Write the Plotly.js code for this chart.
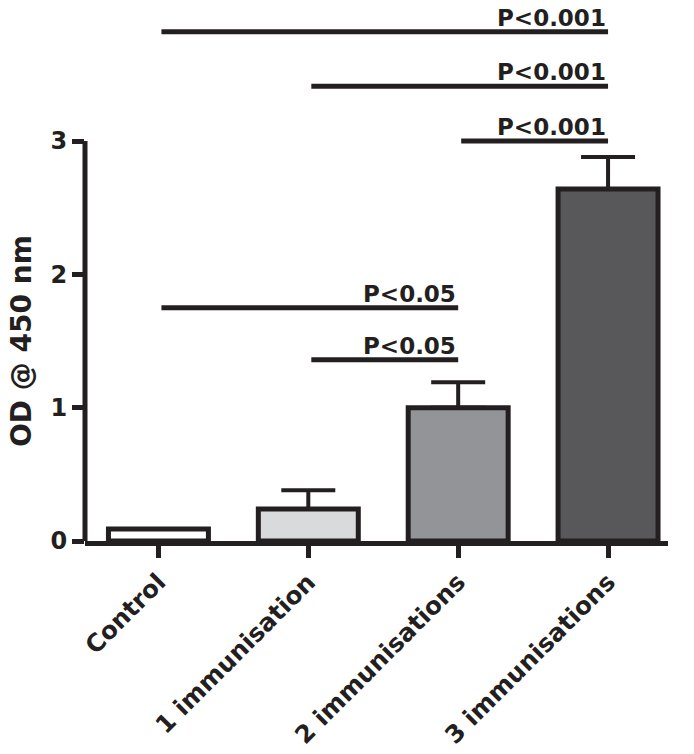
<!DOCTYPE html>
<html>
<head>
<meta charset="utf-8">
<script src="https://cdn.plot.ly/plotly-3.0.1.min.js"></script>
<style>html,body{margin:0;padding:0;background:#fff;}#chart{width:694px;height:754px;}</style>
</head>
<body>
<div id="chart"></div>
<script>
// ---- data ----
const categories = ['Control', '1 immunisation', '2 immunisations', '3 immunisations'];
const means = [0.09, 0.24, 1.0, 2.64];
const errPlus = [0, 0.14, 0.19, 0.24];
const barColors = ['#ffffff', '#d9dadc', '#929497', '#58585b'];

const sigFrom = [0, 1, 2, 0, 1];
const sigTo = [3, 3, 3, 2, 2];
const sigY = [3.82, 3.41, 3.0, 1.75, 1.36];
const sigText = ['P<0.001', 'P<0.001', 'P<0.001', 'P<0.05', 'P<0.05'];

const yTicks = [0, 1, 2, 3];
const yAxisTop = 3;
const yTitle = 'OD @ 450 nm';

// ---- style ----
const ink = '#231f20';
const FONT = 'DejaVu Sans, Arial, sans-serif';

const trace = {
  type: 'bar',
  x: categories,
  y: means,
  width: 0.667,
  marker: { color: barColors, line: { color: ink, width: 5 } },
  error_y: { type: 'data', symmetric: false, array: errPlus, arrayminus: errPlus.map(() => 0),
             color: ink, thickness: 4, width: 27 },
  hoverinfo: 'skip'
};

const shapes = [];
const annotations = [];
for (let i = 0; i < sigText.length; i++) {
  shapes.push({ type: 'line', xref: 'x', yref: 'y', x0: sigFrom[i] + 0.02, x1: sigTo[i],
    y0: sigY[i], y1: sigY[i], line: { color: ink, width: 5 } });
  annotations.push({ xref: 'x', yref: 'y', x: sigTo[i], y: sigY[i], xanchor: 'right', yanchor: 'bottom',
    text: sigText[i], showarrow: false, yshift: -1,
    font: { family: FONT, size: 23, color: ink, weight: 'bold' } });
}
// y axis line (only up to 3)
shapes.push({ type: 'line', xref: 'paper', yref: 'y', x0: 0, x1: 0, y0: 0, y1: yAxisTop,
  line: { color: ink, width: 5 } });

annotations.push({ xref: 'paper', yref: 'y', x: 0, y: yAxisTop / 2, xanchor: 'center', yanchor: 'middle',
  xshift: -64, textangle: -90, text: yTitle, showarrow: false,
  font: { family: FONT, size: 28, color: ink, weight: 'bold' } });

const layout = {
  width: 694, height: 754,
  margin: { l: 85, r: 26, t: 21, b: 213 },
  paper_bgcolor: '#fff', plot_bgcolor: '#fff',
  showlegend: false,
  bargap: 0.333,
  xaxis: {
    type: 'category', range: [-0.49, 3.4], showgrid: false, zeroline: false,
    showline: true, linecolor: ink, linewidth: 5,
    ticks: 'outside', ticklen: 12, tickwidth: 5, tickcolor: ink,
    tickangle: -45, tickfont: { family: FONT, size: 24.5, color: ink, weight: 'bold' }
  },
  yaxis: {
    range: [0, 3.9], showgrid: false, zeroline: false, showline: false,
    tickvals: yTicks, ticktext: yTicks.map(String),
    ticks: 'outside', ticklen: 12, tickwidth: 5, tickcolor: ink,
    tickfont: { family: FONT, size: 24, color: ink, weight: 'bold' }
  },
  shapes: shapes,
  annotations: annotations
};

Plotly.newPlot('chart', [trace], layout, { staticPlot: true, displayModeBar: false });
</script>
</body>
</html>
